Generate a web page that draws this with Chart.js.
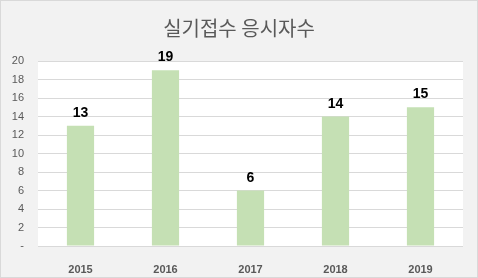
<!DOCTYPE html>
<html>
<head>
<meta charset="utf-8">
<script src="https://cdn.jsdelivr.net/npm/chart.js@4"></script>
<style>
  html, body { margin: 0; padding: 0; background: #f2f2f2; }
  #wrap { width: 478px; height: 278px; }
</style>
</head>
<body>
<div id="wrap"><canvas id="barChart" width="478" height="278"></canvas></div>
<script>
const years = ['2015', '2016', '2017', '2018', '2019'];
const applicants = [13, 19, 6, 14, 15];
const yTicks = [0, 2, 4, 6, 8, 10, 12, 14, 16, 18, 20];

// fundo cinza, área do gráfico branca e moldura
const backgroundPlugin = {
  id: 'background',
  beforeDraw(chart) {
    const { ctx, chartArea } = chart;
    ctx.save();
    ctx.fillStyle = '#f2f2f2';
    ctx.fillRect(0, 0, chart.width, chart.height);
    ctx.fillStyle = '#ffffff';
    ctx.fillRect(chartArea.left, chartArea.top, chartArea.right - chartArea.left, chartArea.bottom - chartArea.top);
    ctx.restore();
  },
  afterDraw(chart) {
    const ctx = chart.ctx;
    ctx.save();
    ctx.strokeStyle = '#d9d9d9';
    ctx.lineWidth = 1;
    ctx.strokeRect(0.5, 0.5, chart.width - 1, chart.height - 1);
    ctx.restore();
  }
};

// rótulos de valor acima das barras
const valueLabels = {
  id: 'valueLabels',
  afterDatasetsDraw(chart) {
    const ctx = chart.ctx;
    const meta = chart.getDatasetMeta(0);
    ctx.save();
    ctx.font = 'bold 14px "Liberation Sans", Arial, sans-serif';
    ctx.fillStyle = '#000000';
    ctx.textAlign = 'center';
    ctx.textBaseline = 'alphabetic';
    meta.data.forEach((bar, i) => {
      ctx.fillText(String(applicants[i]), bar.x, bar.y - 9);
    });
    ctx.restore();
  }
};

const ctx = document.getElementById('barChart').getContext('2d');
new Chart(ctx, {
  type: 'bar',
  data: {
    labels: years,
    datasets: [{
      data: applicants,
      backgroundColor: '#c5e0b4',
      categoryPercentage: 1,
      barPercentage: 0.32
    }]
  },
  options: {
    responsive: false,
    animation: false,
    layout: { padding: 0 },
    plugins: {
      legend: { display: false },
      tooltip: { enabled: false },
      title: {
        display: true,
        text: '실기접수 응시자수',
        color: '#595959',
        font: { family: '"Noto Sans CJK KR", sans-serif', size: 20, weight: 'normal' },
        padding: { top: 16, bottom: 21 }
      }
    },
    scales: {
      x: {
        grid: { display: false },
        border: { display: false },
        ticks: {
          color: '#595959',
          font: { family: '"Liberation Sans", Arial, sans-serif', size: 11, weight: 'bold' },
          padding: 9
        },
        afterFit(scale) { scale.height = 32; }
      },
      y: {
        min: 0,
        max: 20,
        afterBuildTicks(scale) { scale.ticks = yTicks.map(v => ({ value: v })); },
        grid: { color: '#d9d9d9', drawTicks: false },
        border: { display: false },
        ticks: {
          color: '#595959',
          font: { family: '"Liberation Sans", Arial, sans-serif', size: 11 },
          padding: 14,
          callback: v => (v === 0 ? '-' : v)
        },
        afterFit(scale) { scale.width = 38; }
      },
      // margem direita vazia
      yRight: {
        position: 'right',
        grid: { display: false },
        border: { display: false },
        ticks: { display: false },
        afterFit(scale) { scale.width = 15; }
      }
    }
  },
  plugins: [backgroundPlugin, valueLabels]
});
</script>
</body>
</html>
